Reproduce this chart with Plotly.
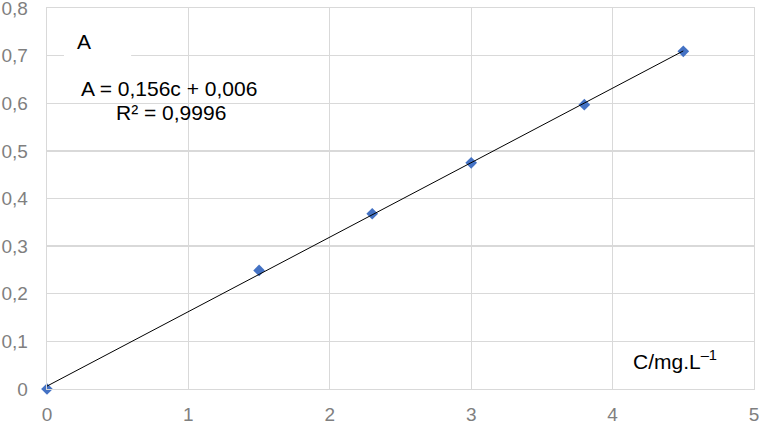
import numpy as np
import plotly.graph_objects as go

# Data
conc = [0, 1.5, 2.3, 3.0, 3.8, 4.5]
absorb = [0, 0.249, 0.368, 0.475, 0.597, 0.709]
x_ticks = [0, 1, 2, 3, 4, 5]
x_tick_labels = ["0", "1", "2", "3", "4", "5"]
y_ticks = [0, 0.1, 0.2, 0.3, 0.4, 0.5, 0.6, 0.7, 0.8]
y_tick_labels = ["0", "0,1", "0,2", "0,3", "0,4", "0,5", "0,6", "0,7", "0,8"]
equation_text = "A = 0,156c + 0,006"
r2_text = "R² = 0,9996"

# Linear trendline fitted to the data
slope, intercept = np.polyfit(conc, absorb, 1)
fit_x = [min(conc), max(conc)]
fit_y = [slope * v + intercept for v in fit_x]

FONT = "Liberation Sans, Arial, sans-serif"
GRID = "#d9d9d9"

fig = go.Figure()
fig.add_trace(go.Scatter(
    x=conc, y=absorb, mode="markers",
    marker=dict(symbol="diamond", size=9, color="#4472C4"),
    showlegend=False, cliponaxis=False, hoverinfo="skip",
))
fig.add_trace(go.Scatter(
    x=fit_x, y=fit_y, mode="lines",
    line=dict(color="black", width=1),
    showlegend=False, cliponaxis=False, hoverinfo="skip",
))

fig.update_xaxes(
    range=[-1e-6, 5 + 1e-6], tickvals=x_ticks, ticktext=x_tick_labels,
    showgrid=True, gridcolor=GRID, gridwidth=1.3,
    zeroline=False, showline=True, mirror=True, linecolor=GRID, linewidth=1.3,
    tickfont=dict(family=FONT, size=19, color="#7f7f7f"),
    ticks="", ticklabelstandoff=8, automargin=False, ticklabeloverflow="allow",
)
fig.update_yaxes(
    range=[-1e-7, 0.8 + 1e-7], tickvals=y_ticks, ticktext=y_tick_labels,
    showgrid=True, gridcolor=GRID, gridwidth=1.3,
    zeroline=False, showline=True, mirror=True, linecolor=GRID, linewidth=1.3,
    tickfont=dict(family=FONT, size=19, color="#7f7f7f"),
    ticks="", ticklabelstandoff=14, automargin=False, ticklabeloverflow="allow",
)

# White box behind the "A" axis label
fig.add_shape(type="rect", xref="x", yref="y",
              x0=0.12, x1=0.595, y0=0.685, y1=0.77,
              fillcolor="white", line=dict(width=0), layer="above")

fig.add_annotation(x=0.262, y=0.73, xref="x", yref="y", text="A",
                   showarrow=False, font=dict(family=FONT, size=21, color="black"))
fig.add_annotation(x=0.863, y=0.632, xref="x", yref="y", text=equation_text,
                   showarrow=False, font=dict(family=FONT, size=21, color="black"))
fig.add_annotation(x=0.88, y=0.581, xref="x", yref="y", text=r2_text,
                   showarrow=False, font=dict(family=FONT, size=21, color="black"))
fig.add_annotation(x=4.44, y=0.06, xref="x", yref="y", text="C/mg.L<sup>–1</sup>",
                   showarrow=False, font=dict(family=FONT, size=21, color="black"))

fig.update_layout(
    width=760, height=422,
    margin=dict(l=47, r=6, t=8, b=33, autoexpand=False),
    paper_bgcolor="white", plot_bgcolor="white",
    font=dict(family=FONT),
)

fig.write_html(
    "out.html",
    config={"displayModeBar": False, "staticPlot": True},
    post_script="document.body.style.margin='0';document.body.style.overflow='hidden';",
)
